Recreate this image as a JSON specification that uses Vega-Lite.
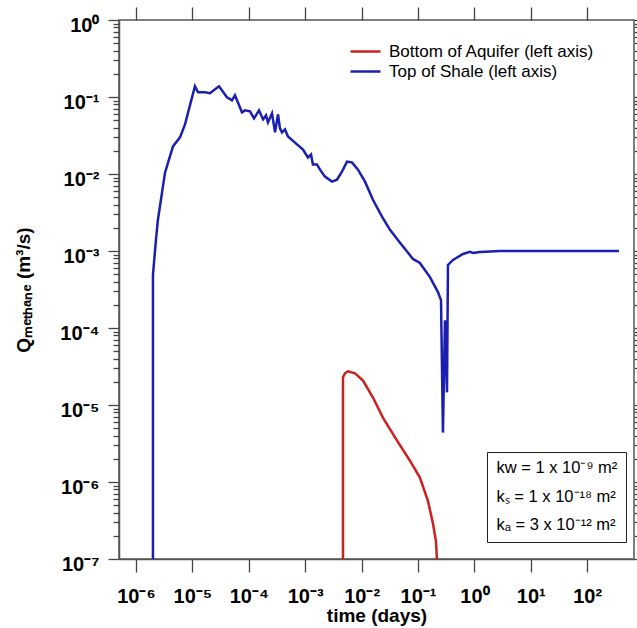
{
  "$schema": "https://vega.github.io/schema/vega-lite/v6.json",
  "autosize": {"type": "none"},
  "width": 515,
  "height": 539,
  "padding": {"left": 119, "top": 20, "right": 3, "bottom": 69},
  "background": "white",
  "config": {
    "font": "Liberation Sans",
    "view": {"stroke": "#555555", "strokeWidth": 1.5},
    "axis": {
      "grid": false,
      "domainColor": "#555555",
      "domainWidth": 1.5,
      "tickColor": "#444444",
      "tickWidth": 1.3,
      "labelFont": "Liberation Sans",
      "labelFontWeight": "bold",
      "labelFontSize": 20,
      "labelColor": "black",
      "titleFont": "Liberation Sans",
      "titleFontWeight": "bold",
      "titleFontSize": 19,
      "titleColor": "black"
    }
  },
  "datasets": {
    "series": [
      {"series": "Top of Shale (left axis)", "i": 1, "time": 2.0e-6, "Q": 1e-7},
      {"series": "Top of Shale (left axis)", "i": 2, "time": 2.0e-6, "Q": 4.88e-4},
      {"series": "Top of Shale (left axis)", "i": 3, "time": 2.26e-6, "Q": 1.40e-3},
      {"series": "Top of Shale (left axis)", "i": 4, "time": 2.45e-6, "Q": 2.55e-3},
      {"series": "Top of Shale (left axis)", "i": 5, "time": 3.27e-6, "Q": 1.04e-2},
      {"series": "Top of Shale (left axis)", "i": 6, "time": 4.53e-6, "Q": 2.28e-2},
      {"series": "Top of Shale (left axis)", "i": 7, "time": 6.03e-6, "Q": 2.99e-2},
      {"series": "Top of Shale (left axis)", "i": 8, "time": 7.40e-6, "Q": 4.41e-2},
      {"series": "Top of Shale (left axis)", "i": 9, "time": 1.11e-5, "Q": 0.138},
      {"series": "Top of Shale (left axis)", "i": 10, "time": 1.26e-5, "Q": 0.115},
      {"series": "Top of Shale (left axis)", "i": 11, "time": 1.67e-5, "Q": 0.115},
      {"series": "Top of Shale (left axis)", "i": 12, "time": 2.05e-5, "Q": 0.112},
      {"series": "Top of Shale (left axis)", "i": 13, "time": 2.96e-5, "Q": 0.138},
      {"series": "Top of Shale (left axis)", "i": 14, "time": 4.10e-5, "Q": 0.0991},
      {"series": "Top of Shale (left axis)", "i": 15, "time": 5.04e-5, "Q": 0.0906},
      {"series": "Top of Shale (left axis)", "i": 16, "time": 5.69e-5, "Q": 0.105},
      {"series": "Top of Shale (left axis)", "i": 17, "time": 7.57e-5, "Q": 0.0632},
      {"series": "Top of Shale (left axis)", "i": 18, "time": 8.57e-5, "Q": 0.0671},
      {"series": "Top of Shale (left axis)", "i": 19, "time": 1.05e-4, "Q": 0.0652},
      {"series": "Top of Shale (left axis)", "i": 20, "time": 1.24e-4, "Q": 0.0527},
      {"series": "Top of Shale (left axis)", "i": 21, "time": 1.52e-4, "Q": 0.0671},
      {"series": "Top of Shale (left axis)", "i": 22, "time": 1.79e-4, "Q": 0.0512},
      {"series": "Top of Shale (left axis)", "i": 23, "time": 2.02e-4, "Q": 0.0577},
      {"series": "Top of Shale (left axis)", "i": 24, "time": 2.19e-4, "Q": 0.0468},
      {"series": "Top of Shale (left axis)", "i": 25, "time": 2.58e-4, "Q": 0.0614},
      {"series": "Top of Shale (left axis)", "i": 26, "time": 2.92e-4, "Q": 0.0347},
      {"series": "Top of Shale (left axis)", "i": 27, "time": 3.30e-4, "Q": 0.0596},
      {"series": "Top of Shale (left axis)", "i": 28, "time": 3.57e-4, "Q": 0.0391},
      {"series": "Top of Shale (left axis)", "i": 29, "time": 3.88e-4, "Q": 0.0347},
      {"series": "Top of Shale (left axis)", "i": 30, "time": 4.39e-4, "Q": 0.0379},
      {"series": "Top of Shale (left axis)", "i": 31, "time": 4.95e-4, "Q": 0.0308},
      {"series": "Top of Shale (left axis)", "i": 32, "time": 6.59e-4, "Q": 0.0256},
      {"series": "Top of Shale (left axis)", "i": 33, "time": 9.14e-4, "Q": 0.0208},
      {"series": "Top of Shale (left axis)", "i": 34, "time": 1.12e-3, "Q": 0.0164},
      {"series": "Top of Shale (left axis)", "i": 35, "time": 1.27e-3, "Q": 0.0179},
      {"series": "Top of Shale (left axis)", "i": 36, "time": 1.37e-3, "Q": 0.0133},
      {"series": "Top of Shale (left axis)", "i": 37, "time": 1.62e-3, "Q": 0.0133},
      {"series": "Top of Shale (left axis)", "i": 38, "time": 1.83e-3, "Q": 0.0114},
      {"series": "Top of Shale (left axis)", "i": 39, "time": 2.24e-3, "Q": 9.25e-3},
      {"series": "Top of Shale (left axis)", "i": 40, "time": 2.99e-3, "Q": 7.96e-3},
      {"series": "Top of Shale (left axis)", "i": 41, "time": 3.66e-3, "Q": 8.45e-3},
      {"series": "Top of Shale (left axis)", "i": 42, "time": 4.49e-3, "Q": 0.0107},
      {"series": "Top of Shale (left axis)", "i": 43, "time": 5.51e-3, "Q": 0.0145},
      {"series": "Top of Shale (left axis)", "i": 44, "time": 6.76e-3, "Q": 0.0141},
      {"series": "Top of Shale (left axis)", "i": 45, "time": 8.63e-3, "Q": 0.0114},
      {"series": "Top of Shale (left axis)", "i": 46, "time": 0.0115, "Q": 7.96e-3},
      {"series": "Top of Shale (left axis)", "i": 47, "time": 0.0159, "Q": 4.63e-3},
      {"series": "Top of Shale (left axis)", "i": 48, "time": 0.0230, "Q": 2.79e-3},
      {"series": "Top of Shale (left axis)", "i": 49, "time": 0.0319, "Q": 1.88e-3},
      {"series": "Top of Shale (left axis)", "i": 50, "time": 0.0480, "Q": 1.28e-3},
      {"series": "Top of Shale (left axis)", "i": 51, "time": 0.0815, "Q": 7.89e-4},
      {"series": "Top of Shale (left axis)", "i": 52, "time": 0.108, "Q": 7.00e-4},
      {"series": "Top of Shale (left axis)", "i": 53, "time": 0.163, "Q": 4.59e-4},
      {"series": "Top of Shale (left axis)", "i": 54, "time": 0.226, "Q": 2.93e-4},
      {"series": "Top of Shale (left axis)", "i": 55, "time": 0.256, "Q": 2.30e-4},
      {"series": "Top of Shale (left axis)", "i": 56, "time": 0.277, "Q": 4.38e-6},
      {"series": "Top of Shale (left axis)", "i": 57, "time": 0.301, "Q": 1.26e-4},
      {"series": "Top of Shale (left axis)", "i": 58, "time": 0.327, "Q": 1.46e-5},
      {"series": "Top of Shale (left axis)", "i": 59, "time": 0.340, "Q": 6.59e-4},
      {"series": "Top of Shale (left axis)", "i": 60, "time": 0.418, "Q": 7.66e-4},
      {"series": "Top of Shale (left axis)", "i": 61, "time": 0.628, "Q": 9.16e-4},
      {"series": "Top of Shale (left axis)", "i": 62, "time": 0.836, "Q": 9.73e-4},
      {"series": "Top of Shale (left axis)", "i": 63, "time": 0.944, "Q": 9.44e-4},
      {"series": "Top of Shale (left axis)", "i": 64, "time": 1.26, "Q": 9.73e-4},
      {"series": "Top of Shale (left axis)", "i": 65, "time": 2.84, "Q": 1.0e-3},
      {"series": "Top of Shale (left axis)", "i": 66, "time": 366, "Q": 1.0e-3},
      {"series": "Bottom of Aquifer (left axis)", "i": 1, "time": 4.68e-3, "Q": 1e-7},
      {"series": "Bottom of Aquifer (left axis)", "i": 2, "time": 4.68e-3, "Q": 2.29e-5},
      {"series": "Bottom of Aquifer (left axis)", "i": 3, "time": 5.08e-3, "Q": 2.58e-5},
      {"series": "Bottom of Aquifer (left axis)", "i": 4, "time": 5.74e-3, "Q": 2.74e-5},
      {"series": "Bottom of Aquifer (left axis)", "i": 5, "time": 7.64e-3, "Q": 2.58e-5},
      {"series": "Bottom of Aquifer (left axis)", "i": 6, "time": 0.0106, "Q": 2.08e-5},
      {"series": "Bottom of Aquifer (left axis)", "i": 7, "time": 0.0159, "Q": 1.25e-5},
      {"series": "Bottom of Aquifer (left axis)", "i": 8, "time": 0.0239, "Q": 6.87e-6},
      {"series": "Bottom of Aquifer (left axis)", "i": 9, "time": 0.0425, "Q": 3.44e-6},
      {"series": "Bottom of Aquifer (left axis)", "i": 10, "time": 0.0721, "Q": 1.89e-6},
      {"series": "Bottom of Aquifer (left axis)", "i": 11, "time": 0.108, "Q": 1.14e-6},
      {"series": "Bottom of Aquifer (left axis)", "i": 12, "time": 0.150, "Q": 5.69e-7},
      {"series": "Bottom of Aquifer (left axis)", "i": 13, "time": 0.185, "Q": 2.85e-7},
      {"series": "Bottom of Aquifer (left axis)", "i": 14, "time": 0.208, "Q": 1.71e-7},
      {"series": "Bottom of Aquifer (left axis)", "i": 15, "time": 0.217, "Q": 1e-7}
    ],
    "notes": [
      {"k": "kᴡ = 1 x 10⁻⁹ m²"},
      {"k": "kₛ = 1 x 10⁻¹⁸ m²"},
      {"k": "kₐ = 3 x 10⁻¹² m²"}
    ]
  },
  "data": {"name": "series"},
  "resolve": {"axis": {"x": "independent", "y": "independent"}},
  "layer": [
    {
      "mark": {"type": "line", "strokeWidth": 2.5, "clip": true},
      "encoding": {
        "x": {
          "field": "time", "type": "quantitative",
          "scale": {"type": "log", "domain": [5.0e-7, 676], "nice": false},
          "axis": {
            "orient": "bottom",
            "title": "time (days)",
            "values": [1e-6, 1e-5, 1e-4, 1e-3, 0.01, 0.1, 1, 10, 100],
            "tickSize": 13,
            "labelPadding": 14,
            "titlePadding": 0,
            "labelExpr": "'10' + replace(replace(replace(replace(replace(replace(replace(replace(replace(replace(replace('' + round(log(datum.value)/LN10), '-', '⁻'), '0', '⁰'), '1', '¹'), '2', '²'), '3', '³'), '4', '⁴'), '5', '⁵'), '6', '⁶'), '7', '⁷'), '8', '⁸'), '9', '⁹')"
          }
        },
        "y": {
          "field": "Q", "type": "quantitative",
          "scale": {"type": "log", "domain": [1e-7, 1], "nice": false},
          "axis": {
            "orient": "left",
            "title": "Qₘₑₜₕₐₙₑ (m³/s)",
            "values": [1e-7, 1e-6, 1e-5, 1e-4, 1e-3, 0.01, 0.1, 1],
            "tickSize": 11,
            "labelPadding": 9,
            "labelOffset": 5,
            "titlePadding": 26,
            "labelExpr": "'10' + replace(replace(replace(replace(replace(replace(replace(replace(replace(replace(replace('' + round(log(datum.value)/LN10), '-', '⁻'), '0', '⁰'), '1', '¹'), '2', '²'), '3', '³'), '4', '⁴'), '5', '⁵'), '6', '⁶'), '7', '⁷'), '8', '⁸'), '9', '⁹')"
          }
        },
        "color": {
          "field": "series", "type": "nominal",
          "scale": {
            "domain": ["Bottom of Aquifer (left axis)", "Top of Shale (left axis)"],
            "range": ["#cc1f1f", "#1a1fb0"]
          },
          "legend": {
            "orient": "none",
            "legendX": 235,
            "legendY": 20,
            "title": null,
            "padding": 0,
            "symbolType": "M-1.5,0H1.5",
            "symbolSize": 400,
            "symbolStrokeWidth": 2.5,
            "labelFont": "Liberation Sans",
            "labelFontSize": 17,
            "labelColor": "black",
            "labelOffset": 12,
            "labelLimit": 0,
            "rowPadding": -4
          }
        },
        "order": {"field": "i", "type": "quantitative"}
      }
    },
    {
      "mark": {"type": "line", "opacity": 0},
      "encoding": {
        "x": {
          "field": "time", "type": "quantitative",
          "axis": {
            "orient": "top", "title": null, "labels": false, "domain": false,
            "values": [1e-6, 1e-5, 1e-4, 1e-3, 0.01, 0.1, 1, 10, 100],
            "tickSize": 13
          }
        },
        "y": {
          "field": "Q", "type": "quantitative",
          "axis": {
            "orient": "left", "title": null, "labels": false, "domain": false,
            "tickSize": 6,
            "values": [2e-7, 3e-7, 4e-7, 5e-7, 6e-7, 7e-7, 8e-7, 9e-7,
                       2e-6, 3e-6, 4e-6, 5e-6, 6e-6, 7e-6, 8e-6, 9e-6,
                       2e-5, 3e-5, 4e-5, 5e-5, 6e-5, 7e-5, 8e-5, 9e-5,
                       2e-4, 3e-4, 4e-4, 5e-4, 6e-4, 7e-4, 8e-4, 9e-4,
                       2e-3, 3e-3, 4e-3, 5e-3, 6e-3, 7e-3, 8e-3, 9e-3,
                       0.02, 0.03, 0.04, 0.05, 0.06, 0.07, 0.08, 0.09,
                       0.2, 0.3, 0.4, 0.5, 0.6, 0.7, 0.8, 0.9]
          }
        },
        "detail": {"field": "series", "type": "nominal"}
      }
    },
    {
      "mark": {"type": "line", "opacity": 0},
      "encoding": {
        "x": {"field": "time", "type": "quantitative", "axis": null},
        "y": {
          "field": "Q", "type": "quantitative",
          "axis": {
            "orient": "right", "title": null, "labels": false, "domain": false,
            "tickSize": 6,
            "values": [1e-7, 2e-7, 3e-7, 4e-7, 5e-7, 6e-7, 7e-7, 8e-7, 9e-7,
                       1e-6, 2e-6, 3e-6, 4e-6, 5e-6, 6e-6, 7e-6, 8e-6, 9e-6,
                       1e-5, 2e-5, 3e-5, 4e-5, 5e-5, 6e-5, 7e-5, 8e-5, 9e-5,
                       1e-4, 2e-4, 3e-4, 4e-4, 5e-4, 6e-4, 7e-4, 8e-4, 9e-4,
                       1e-3, 2e-3, 3e-3, 4e-3, 5e-3, 6e-3, 7e-3, 8e-3, 9e-3,
                       0.01, 0.02, 0.03, 0.04, 0.05, 0.06, 0.07, 0.08, 0.09,
                       0.1, 0.2, 0.3, 0.4, 0.5, 0.6, 0.7, 0.8, 0.9, 1]
          }
        },
        "detail": {"field": "series", "type": "nominal"}
      }
    },
    {
      "data": {"name": "notes"},
      "mark": {"type": "point", "opacity": 0, "size": 0, "strokeWidth": 0},
      "encoding": {
        "shape": {
          "field": "k", "type": "nominal",
          "scale": {"domain": ["kᴡ = 1 x 10⁻⁹ m²", "kₛ = 1 x 10⁻¹⁸ m²", "kₐ = 3 x 10⁻¹² m²"]},
          "legend": {
            "orient": "none",
            "legendX": 368,
            "legendY": 432,
            "title": null,
            "padding": 8,
            "strokeColor": "#222222",
            "symbolSize": 0,
            "symbolStrokeWidth": 0,
            "symbolOpacity": 0,
            "labelOffset": -15,
            "labelLimit": 0,
            "labelFont": "Liberation Sans",
            "labelFontSize": 16.5,
            "labelColor": "black",
            "rowPadding": 11.5
          }
        }
      }
    }
  ]
}
